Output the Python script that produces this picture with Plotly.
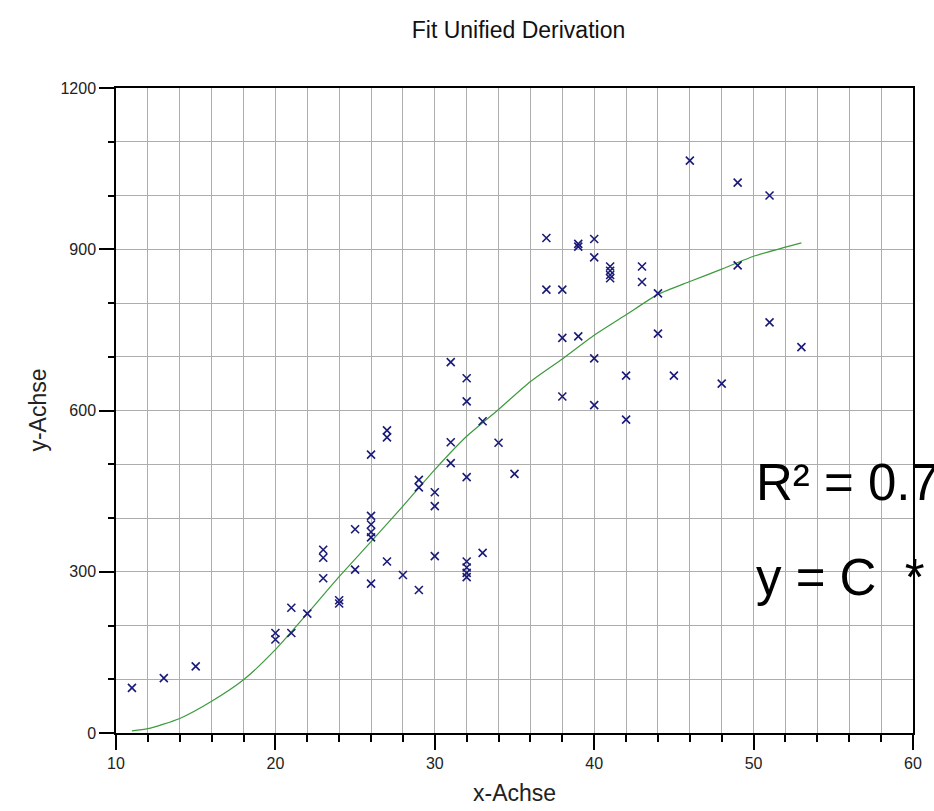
import plotly.graph_objects as go

# Scatter data
pts_x = [11, 13, 15,
         20, 20, 21, 21, 22,
         23, 23, 23,
         24, 24,
         25, 25,
         26, 26, 26, 26, 26, 26,
         27, 27, 27,
         28,
         29, 29, 29,
         30, 30, 30,
         31, 31, 31,
         32, 32, 32, 32, 32, 32, 32,
         33, 33,
         34,
         35,
         37, 37,
         38, 38, 38,
         39, 39, 39,
         40, 40, 40, 40,
         41, 41, 41, 41,
         42, 42,
         43, 43,
         44, 44,
         45,
         46,
         48,
         49, 49,
         51, 51,
         53]
pts_y = [84, 102, 124,
         186, 174, 186, 233, 222,
         341, 326, 288,
         247, 241,
         379, 304,
         518, 404, 388, 374, 364, 278,
         563, 550, 319,
         294,
         471, 457, 266,
         448, 422, 329,
         690, 541, 502,
         660, 617, 476, 319, 308, 298, 290,
         580, 335,
         540,
         482,
         921, 825,
         825, 735, 626,
         910, 905, 738,
         919, 885, 697, 610,
         868, 860, 852, 846,
         665, 583,
         868, 839,
         818, 743,
         665,
         1065,
         650,
         1024, 870,
         1000, 764,
         718]

# Fitted curve
fit_x = [11, 12, 14, 16, 18, 20, 22, 24, 26, 28, 30, 32, 34, 36, 38, 40, 42, 44, 46, 48, 50, 52, 53]
fit_y = [4, 8, 27, 59, 99, 155, 222, 291, 356, 422, 490, 552, 602, 654, 696, 740, 778, 816, 840, 863, 887, 904, 912]

title_text = "Fit Unified Derivation"
x_title = "x-Achse"
y_title = "y-Achse"
r2_text = "R² = 0.7"
eq_text = "y = C\u00a0 *"

FONT = "Liberation Sans, Arial, sans-serif"
GRID = "#adadad"

fig = go.Figure()
fig.add_trace(go.Scatter(x=fit_x, y=fit_y, mode="lines",
                         line=dict(color="#3d9a3d", width=1.2, shape="spline", smoothing=0.6),
                         showlegend=False, hoverinfo="skip"))
fig.add_trace(go.Scatter(x=pts_x, y=pts_y, mode="markers",
                         marker=dict(symbol="x-thin", size=8,
                                     line=dict(color="#1a1a78", width=1.6),
                                     color="#1a1a78"),
                         showlegend=False))

axis_common = dict(
    ticks="outside", ticklen=15, tickwidth=1.5, tickcolor="black",
    showgrid=True, gridcolor=GRID, gridwidth=1,
    showline=True, linecolor="black", linewidth=1.5, mirror=True,
    zeroline=False,
    tickfont=dict(family=FONT, size=16, color="#222222"),
)

fig.update_xaxes(range=[10, 60], tick0=10, dtick=10,
                 minor=dict(dtick=2, ticklen=7, tickwidth=1.5, tickcolor="black",
                            ticks="outside", showgrid=True, gridcolor=GRID, gridwidth=1),
                 **axis_common)
fig.update_yaxes(range=[0, 1200], tick0=0, dtick=300,
                 minor=dict(dtick=100, ticklen=6, tickwidth=1.5, tickcolor="black",
                            ticks="outside", showgrid=True, gridcolor=GRID, gridwidth=1),
                 **axis_common)

fig.update_layout(
    width=934, height=811,
    margin=dict(l=116, r=12, t=88, b=78),
    paper_bgcolor="white", plot_bgcolor="white",
    font=dict(family=FONT, color="black"),
    title=dict(text=title_text, x=0.505, xref="paper", xanchor="center",
               y=1 - 30 / 811, yref="container", yanchor="middle",
               font=dict(family=FONT, size=23, color="#111111")),
    annotations=[
        dict(text=x_title, xref="paper", yref="paper", x=0.5, y=-0.093,
             xanchor="center", yanchor="middle", showarrow=False,
             font=dict(family=FONT, size=23, color="#222222")),
        dict(text=y_title, xref="paper", yref="paper", x=-0.099, y=0.5,
             xanchor="center", yanchor="middle", showarrow=False, textangle=-90,
             font=dict(family=FONT, size=23, color="#222222")),
        dict(text=r2_text, xref="paper", yref="paper", x=0.801, y=0.389,
             xanchor="left", yanchor="middle", showarrow=False,
             font=dict(family=FONT, size=51, color="black")),
        dict(text=eq_text, xref="paper", yref="paper", x=0.801, y=0.241,
             xanchor="left", yanchor="middle", showarrow=False,
             font=dict(family=FONT, size=51, color="black")),
    ],
)

fig.write_html("out.html")
